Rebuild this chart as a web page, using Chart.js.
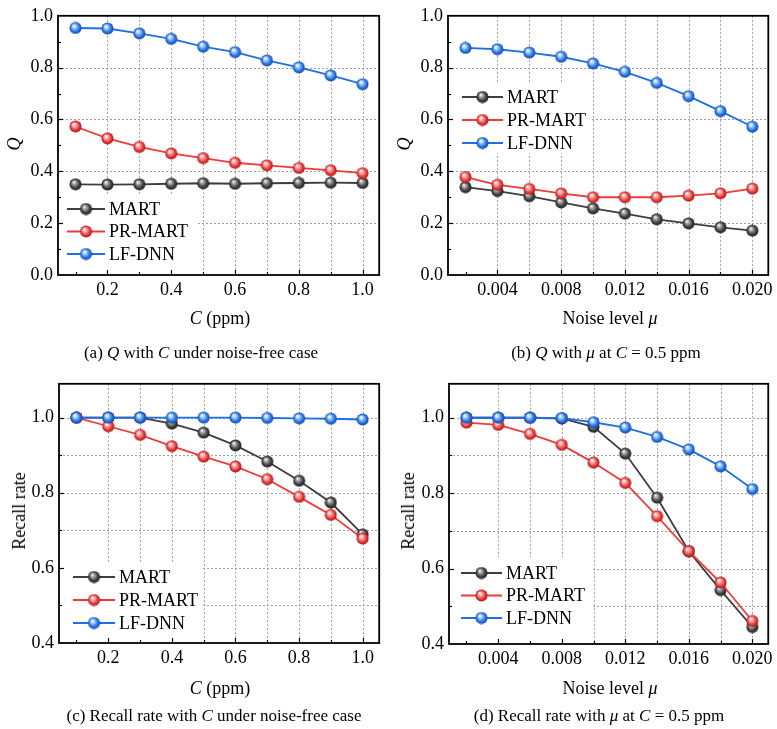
<!DOCTYPE html>
<html>
<head>
<meta charset="utf-8">
<script src="https://cdn.jsdelivr.net/npm/chart.js@4.4.1/dist/chart.umd.min.js"></script>
<style>
  html, body { margin: 0; padding: 0; background: #fff; overflow: hidden; }
  #fig { position: relative; width: 777px; height: 729px; font-family: 'Liberation Serif', 'Times New Roman', serif; color: #000; }
  canvas { position: absolute; }
  .lbl { position: absolute; white-space: nowrap; transform: translate(-50%, -50%); font-size: 18px; line-height: 1; }
  .ylbl { transform: translate(-50%, -50%) rotate(-90deg); }
  .cap { font-size: 17px; }
</style>
</head>
<body>
<div id="fig">
  <canvas id="chartA" width="387" height="340" style="left:0;top:0"></canvas>
  <canvas id="chartB" width="387" height="340" style="left:390px;top:0"></canvas>
  <canvas id="chartC" width="387" height="340" style="left:0;top:368px"></canvas>
  <canvas id="chartD" width="387" height="340" style="left:390px;top:368px"></canvas>

  <div class="lbl ylbl" style="left:14px;top:144px"><i>Q</i></div>
  <div class="lbl" style="left:220px;top:318px"><i>C</i> (ppm)</div>
  <div class="lbl cap" style="left:201px;top:352px">(a) <i>Q</i> with <i>C</i> under noise-free case</div>

  <div class="lbl ylbl" style="left:404px;top:144px"><i>Q</i></div>
  <div class="lbl" style="left:610px;top:318px">Noise level <i>μ</i></div>
  <div class="lbl cap" style="left:606px;top:352px">(b) <i>Q</i> with <i>μ</i> at <i>C</i> = 0.5 ppm</div>

  <div class="lbl ylbl" style="left:19px;top:511px">Recall rate</div>
  <div class="lbl" style="left:220px;top:688px"><i>C</i> (ppm)</div>
  <div class="lbl cap" style="left:214px;top:715px">(c) Recall rate with <i>C</i> under noise-free case</div>

  <div class="lbl ylbl" style="left:408px;top:511px">Recall rate</div>
  <div class="lbl" style="left:610px;top:688px">Noise level <i>μ</i></div>
  <div class="lbl cap" style="left:599px;top:715px">(d) Recall rate with <i>μ</i> at <i>C</i> = 0.5 ppm</div>
</div>

<script>
// ---- data ----
const cValues  = [0.1, 0.2, 0.3, 0.4, 0.5, 0.6, 0.7, 0.8, 0.9, 1.0];
const muValues = [0.002, 0.004, 0.006, 0.008, 0.010, 0.012, 0.014, 0.016, 0.018, 0.020];
const seriesNames = ['MART', 'PR-MART', 'LF-DNN'];

// Q vs C (noise-free)
const qC_mart   = [0.350, 0.349, 0.350, 0.352, 0.354, 0.352, 0.354, 0.355, 0.356, 0.355];
const qC_prmart = [0.573, 0.527, 0.494, 0.469, 0.451, 0.433, 0.423, 0.413, 0.404, 0.393];
const qC_lfdnn  = [0.953, 0.951, 0.932, 0.911, 0.881, 0.860, 0.828, 0.801, 0.770, 0.736];

// Q vs noise level at C = 0.5 ppm
const qMu_mart   = [0.339, 0.324, 0.304, 0.280, 0.257, 0.237, 0.215, 0.199, 0.184, 0.171];
const qMu_prmart = [0.378, 0.348, 0.332, 0.315, 0.300, 0.300, 0.300, 0.306, 0.315, 0.333];
const qMu_lfdnn  = [0.876, 0.871, 0.858, 0.842, 0.816, 0.784, 0.741, 0.690, 0.632, 0.572];

// Recall rate vs C (noise-free)
const recallC_mart   = [1.000, 1.000, 1.000, 0.984, 0.960, 0.926, 0.883, 0.832, 0.774, 0.689];
const recallC_prmart = [1.000, 0.977, 0.954, 0.924, 0.896, 0.870, 0.836, 0.789, 0.741, 0.678];
const recallC_lfdnn  = [1.000, 1.000, 1.000, 1.000, 1.000, 1.000, 0.999, 0.998, 0.997, 0.995];

// Recall rate vs noise level at C = 0.5 ppm
const recallMu_mart   = [1.000, 1.000, 1.000, 0.998, 0.976, 0.905, 0.788, 0.646, 0.543, 0.445];
const recallMu_prmart = [0.987, 0.981, 0.957, 0.928, 0.881, 0.827, 0.739, 0.646, 0.563, 0.461];
const recallMu_lfdnn  = [1.000, 1.000, 1.000, 0.999, 0.988, 0.974, 0.949, 0.916, 0.871, 0.811];

// ---- ticks ----
const cTicks  = cValues;
const cTickLabels = ['0.2', '0.4', '0.6', '0.8', '1.0'];
const muTicks = muValues;
const muTickLabels = ['0.004', '0.008', '0.012', '0.016', '0.020'];
const qTicks = [0, 0.1, 0.2, 0.3, 0.4, 0.5, 0.6, 0.7, 0.8, 0.9, 1.0];
const qTickLabels = ['0.0', '0.2', '0.4', '0.6', '0.8', '1.0'];
const recallTicks = [0.4, 0.5, 0.6, 0.7, 0.8, 0.9, 1.0];
const recallTickLabels = ['0.4', '0.6', '0.8', '1.0'];

const FONT = "'Liberation Serif', 'Times New Roman', serif";

// shaded ball used as the point marker
function sphere(base, light, dark) {
  const r = 6;
  const c = document.createElement('canvas');
  c.width = c.height = 2 * r + 1;
  const g = c.getContext('2d');
  const cx = r + 0.5, cy = r + 0.5;
  const grad = g.createRadialGradient(cx - 1.8, cy - 2.3, 0.3, cx, cy, r);
  grad.addColorStop(0, '#ffffff');
  grad.addColorStop(0.22, light);
  grad.addColorStop(0.65, base);
  grad.addColorStop(1, dark);
  g.fillStyle = grad;
  g.beginPath();
  g.arc(cx, cy, r, 0, Math.PI * 2);
  g.fill();
  return c;
}

const styles = [
  { line: '#3d3d3d', ball: sphere('#4a4a4a', '#b5b5b5', '#1c1c1c'), order: 3 },
  { line: '#f03a3a', ball: sphere('#f04343', '#ffc4c4', '#a81616'), order: 2 },
  { line: '#1f6fe6', ball: sphere('#2f7ff0', '#c4ddff', '#1244a6'), order: 1 }
];

function labelFor(value, labels, digits) {
  const s = value.toFixed(digits);
  return labels.includes(s) ? s : '';
}

// dotted grid, inward ticks, frame and the in-plot legend
const panelDecor = {
  id: 'panelDecor',
  beforeDatasetsDraw(chart, args, opts) {
    const { ctx, chartArea: a, scales: { x, y } } = chart;
    ctx.save();
    ctx.strokeStyle = '#a0a0a0';
    ctx.lineWidth = 1;
    ctx.setLineDash([2, 2]);
    x.ticks.forEach((t, i) => {
      if (i === 0) return;
      const px = Math.round(x.getPixelForValue(t.value)) + 0.5;
      ctx.beginPath(); ctx.moveTo(px, a.top); ctx.lineTo(px, a.bottom); ctx.stroke();
    });
    y.ticks.forEach((t, i) => {
      if (i === 0 || t.value >= y.max) return;
      if (!opts.yMinorGrid && !t.label) return;
      const py = Math.round(y.getPixelForValue(t.value)) + 0.5;
      ctx.beginPath(); ctx.moveTo(a.left, py); ctx.lineTo(a.right, py); ctx.stroke();
    });
    ctx.restore();
  },
  afterDatasetsDraw(chart, args, opts) {
    const { ctx, chartArea: a, scales: { x, y } } = chart;
    ctx.save();

    // legend
    const lg = opts.legend;
    ctx.fillStyle = '#fff';
    ctx.fillRect(lg.box[0], lg.box[1], lg.box[2] - lg.box[0], lg.box[3] - lg.box[1]);
    ctx.font = '18px ' + FONT;
    ctx.textBaseline = 'middle';
    chart.data.datasets.forEach((ds, i) => {
      const yy = lg.y + i * lg.gap;
      ctx.strokeStyle = ds.borderColor;
      ctx.lineWidth = 1.8;
      ctx.beginPath(); ctx.moveTo(lg.x, yy); ctx.lineTo(lg.x + lg.len, yy); ctx.stroke();
      const img = ds.pointStyle;
      ctx.drawImage(img, lg.x + lg.len / 2 - img.width / 2, yy - img.height / 2);
      ctx.fillStyle = '#000';
      ctx.fillText(ds.label, lg.x + lg.len + 4, yy + 1);
    });

    // inward ticks
    ctx.strokeStyle = '#000';
    ctx.lineWidth = 1.2;
    x.ticks.forEach(t => {
      const px = Math.round(x.getPixelForValue(t.value)) + 0.5;
      const len = t.label ? 5 : 3;
      ctx.beginPath(); ctx.moveTo(px, a.bottom); ctx.lineTo(px, a.bottom - len); ctx.stroke();
    });
    y.ticks.forEach(t => {
      if (t.value <= y.min || t.value >= y.max) return;
      const py = Math.round(y.getPixelForValue(t.value)) + 0.5;
      const len = t.label ? 5 : 3;
      ctx.beginPath(); ctx.moveTo(a.left, py); ctx.lineTo(a.left + len, py); ctx.stroke();
    });

    // frame
    ctx.lineWidth = 1.8;
    ctx.strokeRect(a.left, a.top, a.right - a.left, a.bottom - a.top);
    ctx.restore();
  }
};

function makePanel(id, p) {
  const datasets = p.series.map((ys, i) => ({
    label: seriesNames[i],
    data: p.xValues.map((xv, k) => ({ x: xv, y: ys[k] })),
    borderColor: styles[i].line,
    backgroundColor: styles[i].line,
    borderWidth: 1.8,
    pointStyle: styles[i].ball,
    pointRadius: 6,
    tension: 0,
    order: styles[i].order
  }));
  const area = p.area; // [left, top, right, bottom] of the plot box inside the canvas
  const canvas = document.getElementById(id);
  const tickFont = { family: FONT, size: 18 };
  return new Chart(canvas, {
    type: 'line',
    data: { datasets },
    plugins: [panelDecor],
    options: {
      responsive: false,
      animation: false,
      devicePixelRatio: 1,
      events: [],
      clip: false,
      layout: {
        padding: { left: area[0] - 50, top: area[1], right: canvas.width - area[2], bottom: canvas.height - area[3] - 40 }
      },
      plugins: {
        legend: { display: false },
        tooltip: { enabled: false },
        panelDecor: { legend: p.legend, yMinorGrid: p.yMinorGrid }
      },
      scales: {
        x: {
          type: 'linear',
          min: p.xMin, max: p.xMax,
          afterBuildTicks: s => { s.ticks = p.xTicks.map(v => ({ value: v })); },
          afterFit: s => { s.height = 40; },
          grid: { display: false, drawTicks: false },
          border: { display: false },
          ticks: {
            autoSkip: false, maxRotation: 0, padding: 4, color: '#000', font: tickFont,
            callback: v => labelFor(v, p.xLabels, p.xDigits)
          }
        },
        y: {
          type: 'linear',
          min: p.yMin, max: p.yMax,
          afterBuildTicks: s => { s.ticks = p.yTicks.map(v => ({ value: v })); },
          afterFit: s => { s.width = 50; },
          grid: { display: false, drawTicks: false },
          border: { display: false },
          ticks: {
            autoSkip: false, padding: 5, color: '#000', font: tickFont,
            callback: v => labelFor(v, p.yLabels, 1)
          }
        }
      }
    }
  });
}

makePanel('chartA', {
  xValues: cValues, series: [qC_mart, qC_prmart, qC_lfdnn],
  xMin: 0.045, xMax: 1.052, xTicks: cTicks, xLabels: cTickLabels, xDigits: 1,
  yMin: 0, yMax: 1.0, yTicks: qTicks, yLabels: qTickLabels, yMinorGrid: false,
  area: [58, 13, 381, 275],
  legend: { box: [59, 195, 197, 274], x: 67, len: 38, y: 209, gap: 22.5 }
});

makePanel('chartB', {
  xValues: muValues, series: [qMu_mart, qMu_prmart, qMu_lfdnn],
  xMin: 0.0009, xMax: 0.0210, xTicks: muTicks, xLabels: muTickLabels, xDigits: 3,
  yMin: 0, yMax: 1.0, yTicks: qTicks, yLabels: qTickLabels, yMinorGrid: false,
  area: [58, 12, 381, 275],
  legend: { box: [59, 83, 200, 153], x: 72, len: 41, y: 97, gap: 23 }
});

makePanel('chartC', {
  xValues: cValues, series: [recallC_mart, recallC_prmart, recallC_lfdnn],
  xMin: 0.045, xMax: 1.052, xTicks: cTicks, xLabels: cTickLabels, xDigits: 1,
  yMin: 0.4, yMax: 1.09, yTicks: recallTicks, yLabels: recallTickLabels, yMinorGrid: true,
  area: [59, 11, 381, 275],
  legend: { box: [60, 195, 203, 274], x: 73, len: 42, y: 209, gap: 23 }
});

makePanel('chartD', {
  xValues: muValues, series: [recallMu_mart, recallMu_prmart, recallMu_lfdnn],
  xMin: 0.0009, xMax: 0.0210, xTicks: muTicks, xLabels: muTickLabels, xDigits: 3,
  yMin: 0.4, yMax: 1.09, yTicks: recallTicks, yLabels: recallTickLabels, yMinorGrid: true,
  area: [59, 11, 381, 276],
  legend: { box: [60, 189, 202, 275], x: 71, len: 41, y: 205, gap: 22.5 }
});
</script>
</body>
</html>
